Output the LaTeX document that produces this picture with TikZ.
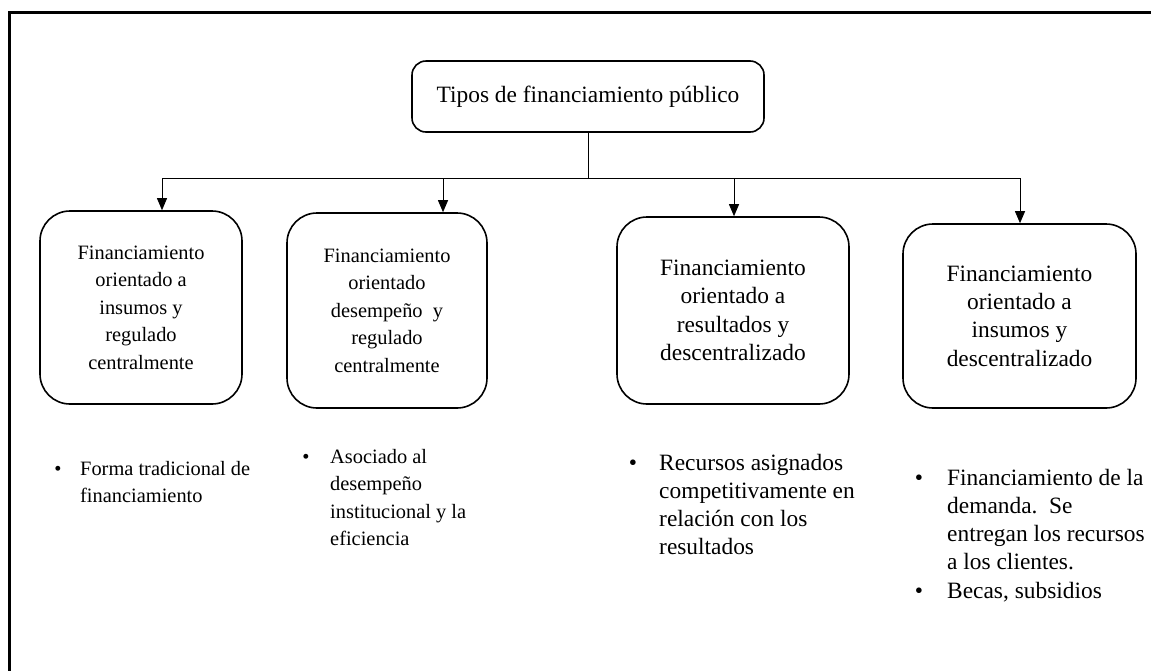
\documentclass[tikz,border=0pt]{standalone}
\usepackage{fontspec}
\setmainfont{Liberation Serif}
\usetikzlibrary{arrows.meta}
\newcommand\mylines[2]{\vtop{\baselineskip=#1\relax\halign{##\hfil\cr#2\crcr}}}
\begin{document}
\begin{tikzpicture}[x=1pt,y=-1pt,
  box/.style={draw, line width=1.6pt, rounded corners=30pt, align=center, inner sep=0pt},
  fa/.style={font=\fontsize{20.4}{27.5}\selectfont},
  fb/.style={font=\fontsize{23.4}{28.3}\selectfont},
  conn/.style={line width=0.9pt},
  arr/.style={conn, -{Triangle[width=10pt,length=12pt]}},
  txt/.style={anchor=base west, inner sep=0pt},
  bul/.style={anchor=base, inner sep=0pt}]
\useasboundingbox (0,0) rectangle (1151,670);
\draw[line width=2.4pt] (9.5,12.5) rectangle (1175,695);

\node[box, fb, minimum width=352pt, minimum height=71pt, rounded corners=14pt] (top) at (588,96.5) {Tipos de financiamiento público};

\node[box, fa, minimum width=202pt, minimum height=193pt] (b1) at (141,307.5)
  {Financiamiento\\orientado a\\insumos y\\regulado\\centralmente};
\node[box, fa, minimum width=200pt, minimum height=195pt] (b2) at (387,310.5)
  {Financiamiento\\orientado\\desempeño\ \ y\\regulado\\centralmente};
\node[box, fb, minimum width=232pt, minimum height=187pt] (b3) at (733,310.5)
  {Financiamiento\\orientado a\\resultados y\\descentralizado};
\node[box, fb, minimum width=233pt, minimum height=184pt] (b4) at (1019.5,316)
  {Financiamiento\\orientado a\\insumos y\\descentralizado};

\coordinate (bus) at (589,178);
\coordinate (t1) at ([xshift=21pt]b1.north);
\coordinate (t2) at ([xshift=56pt]b2.north);
\coordinate (t3) at ([xshift=1pt]b3.north);
\coordinate (t4) at ([xshift=0.5pt]b4.north);
\draw[conn] (top.south) -- (top.south |- bus);
\draw[conn] (t1 |- bus) -- (t4 |- bus);
\draw[arr] (t1 |- bus) -- (t1);
\draw[arr] (t2 |- bus) -- (t2);
\draw[arr] (t3 |- bus) -- (t3);
\draw[arr] (t4 |- bus) -- (t4);

\node[bul, fa] (p1) at (58,475) {\textbullet};
\node[txt, fa] (l1) at (80,475) {\mylines{27.5pt}{Forma tradicional de\cr financiamiento}};
\node[bul, fa] (p2) at (306,463) {\textbullet};
\node[txt, fa] (l2) at (330,463) {\mylines{27.5pt}{Asociado al\cr desempeño\cr institucional y la\cr eficiencia}};
\node[bul, fb] (p3) at (633,470) {\textbullet};
\node[txt, fb] (l3) at (659,470) {\mylines{28.3pt}{Recursos asignados\cr competitivamente en\cr relación con los\cr resultados}};
\node[bul, fb] (p4) at (919,485) {\textbullet};
\node[txt, fb] (l4) at (947,485) {\mylines{28.3pt}{Financiamiento de la\cr demanda.\ \ Se\cr entregan los recursos\cr a los clientes.}};
\node[bul, fb] (p5) at (919,598.2) {\textbullet};
\node[txt, fb] (l5) at (947,598.2) {Becas, subsidios};
\end{tikzpicture}
\end{document}
